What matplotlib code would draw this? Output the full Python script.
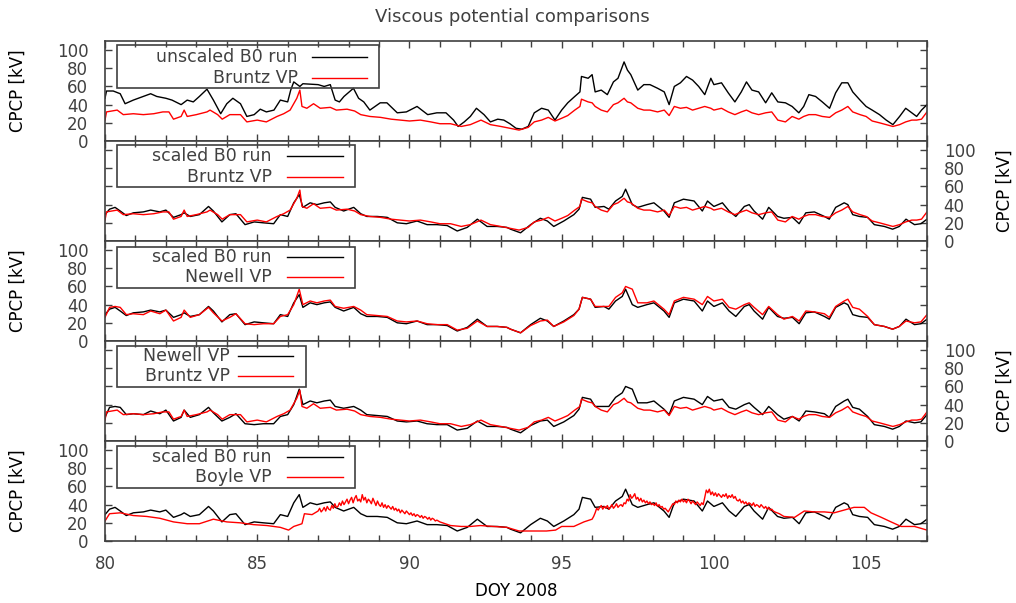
import matplotlib
matplotlib.use("Agg")
import matplotlib.pyplot as plt
from matplotlib.ticker import MultipleLocator
from matplotlib.patches import Rectangle
from matplotlib.lines import Line2D

# unscaled B0 run (CPCP, kV)
unscaled_doy = [80.0, 80.05, 80.27, 80.5, 80.66, 80.93, 81.26, 81.5, 81.7, 82.0, 82.2, 82.5, 82.7, 82.9, 83.1,
                83.35, 83.56, 83.8, 84.0, 84.2, 84.45, 84.66, 84.9, 85.1, 85.3, 85.55, 85.76, 86.0, 86.1, 86.2,
                86.4, 86.5, 87.0, 87.2, 87.4, 87.56, 87.7, 87.85, 88.16, 88.33, 88.5, 88.7, 89.04, 89.26, 89.6,
                89.9, 90.25, 90.6, 90.9, 91.2, 91.45, 91.6, 91.8, 92.0, 92.2, 92.45, 92.66, 92.9, 93.1, 93.3,
                93.5, 93.69, 93.9, 94.1, 94.34, 94.56, 94.78, 95.0, 95.2, 95.43, 95.6, 95.65, 95.87, 96.0, 96.1,
                96.3, 96.5, 96.7, 96.85, 97.05, 97.16, 97.27, 97.5, 97.7, 97.9, 98.15, 98.37, 98.53, 98.7, 98.9,
                99.1, 99.3, 99.5, 99.7, 99.9, 100.0, 100.25, 100.47, 100.69, 100.9, 101.07, 101.25, 101.47,
                101.7, 101.9, 102.1, 102.35, 102.57, 102.79, 102.95, 103.12, 103.34, 103.56, 103.8, 104.0,
                104.2, 104.4, 104.56, 104.8, 105.0, 105.2, 105.44, 105.66, 105.88, 106.1, 106.3, 106.5, 106.66,
                106.82, 107.0]
unscaled_kv = [47, 55, 55, 52, 41, 45, 49, 52, 49, 47, 45, 40, 45, 43, 49,
               57, 45, 30, 41, 47, 41, 27, 29, 35, 32, 34, 45, 43, 56, 65,
               60, 63, 62, 60, 62, 45, 43, 49, 58, 47, 43, 34, 42, 42, 31,
               32, 38, 29, 31, 31, 23, 16, 21, 27, 36, 29, 21, 24, 23, 19,
               14, 13, 16, 31, 36, 34, 23, 34, 42, 49, 54, 71, 69, 73, 54,
               56, 51, 65, 69, 87, 78, 73, 56, 62, 62, 58, 54, 40, 60, 64,
               71, 67, 60, 51, 69, 62, 64, 53, 43, 54, 65, 56, 54,
               42, 53, 43, 42, 38, 31, 38, 51, 49, 43, 36, 53,
               64, 64, 54, 45, 38, 34, 29, 23, 18, 27, 36, 31, 27,
               34, 40]

# Bruntz viscous potential
bruntz_doy = [80.0, 80.05, 80.4, 80.6, 80.93, 81.26, 81.6, 81.9, 82.1, 82.25, 82.5, 82.6, 82.7, 83.0, 83.35,
              83.45, 83.7, 83.85, 84.1, 84.45, 84.66, 85.0, 85.3, 85.65, 85.87, 86.08, 86.3, 86.4, 86.47, 86.63,
              86.85, 87.07, 87.4, 87.6, 87.95, 88.2, 88.4, 88.7, 89.05, 89.4, 89.7, 90.0, 90.36, 90.7, 91.0,
              91.35, 91.7, 92.0, 92.35, 92.66, 93.0, 93.3, 93.6, 93.9, 94.1, 94.34, 94.56, 94.78, 95.0, 95.2,
              95.43, 95.6, 95.65, 95.87, 96.0, 96.1, 96.3, 96.5, 96.7, 96.85, 97.05, 97.16, 97.27, 97.5, 97.7,
              97.9, 98.15, 98.37, 98.53, 98.7, 98.9, 99.1, 99.3, 99.5, 99.7, 99.9, 100.0, 100.25, 100.47,
              100.69, 100.9, 101.07, 101.25, 101.47, 101.7, 101.9, 102.1, 102.35, 102.57, 102.79, 102.95,
              103.12, 103.34, 103.56, 103.8, 104.0, 104.2, 104.4, 104.56, 104.8, 105.0, 105.2, 105.44, 105.66,
              105.88, 106.1, 106.3, 106.5, 106.66, 106.82, 107.0]
bruntz_kv = [23, 32, 34, 29, 30, 29, 30, 32, 32, 24, 27, 34, 27, 29, 32,
             34, 29, 24, 29, 29, 21, 23, 21, 27, 30, 34, 47, 56, 38, 36,
             41, 36, 37, 34, 35, 33, 29, 27, 26, 24, 23, 22, 23, 21, 19,
             19, 16, 18, 23, 18, 16, 14, 12, 15, 21, 23, 26, 22, 25, 28,
             34, 38, 46, 43, 42, 38, 34, 32, 40, 42, 47, 43, 42, 36, 34,
             34, 32, 34, 28, 38, 36, 37, 34, 36, 38, 36, 34, 36, 32,
             29, 32, 34, 31, 29, 31, 32, 23, 21, 27, 24, 27,
             29, 29, 27, 26, 31, 34, 38, 32, 29, 27, 22, 20, 18,
             16, 18, 21, 23, 23, 24, 32]

# scaled B0 run
scaled_doy = [80.0, 80.15, 80.33, 80.5, 80.7, 80.93, 81.26, 81.5, 81.8, 82.0, 82.25, 82.5, 82.6, 82.8, 83.1,
              83.4, 83.56, 83.84, 84.1, 84.3, 84.6, 84.9, 85.2, 85.54, 85.76, 86.0, 86.2, 86.38, 86.5, 86.74,
              86.96, 87.2, 87.4, 87.56, 87.84, 88.17, 88.4, 88.6, 88.94, 89.27, 89.6, 89.9, 90.25, 90.58, 90.9,
              91.24, 91.57, 91.9, 92.23, 92.55, 92.88, 93.2, 93.32, 93.65, 93.98, 94.3, 94.53, 94.74, 95.07,
              95.4, 95.57, 95.68, 95.95, 96.1, 96.39, 96.55, 96.77, 96.99, 97.1, 97.32, 97.5, 97.8, 98.03,
              98.36, 98.53, 98.7, 99.0, 99.35, 99.62, 99.79, 100.0, 100.28, 100.5, 100.72, 101.0, 101.16,
              101.32, 101.6, 101.8, 102.09, 102.3, 102.58, 102.8, 103.02, 103.3, 103.63, 103.79, 104.0,
              104.28, 104.4, 104.56, 104.78, 105.05, 105.27, 105.6, 105.87, 106.09, 106.31, 106.59, 106.8,
              107.0]
scaled_kv = [29, 35, 37, 33, 28, 31, 32, 34, 32, 34, 26, 29, 31, 27, 29,
             38, 33, 21, 29, 30, 18, 21, 20, 19, 29, 27, 42, 51, 37, 42,
             40, 42, 43, 37, 33, 37, 30, 27, 27, 26, 20, 19, 22, 18, 18,
             17, 11, 15, 24, 16, 16, 15, 13, 9, 18, 25, 22, 16, 22,
             29, 35, 48, 46, 37, 38, 35, 44, 49, 57, 40, 37, 40, 42,
             33, 26, 42, 46, 44, 33, 44, 38, 42, 33, 27, 38, 40,
             33, 24, 37, 27, 25, 26, 19, 31, 32, 27, 24, 37,
             42, 40, 29, 27, 26, 18, 16, 13, 16, 24, 18, 19,
             24]

# Newell viscous potential (same time grid as scaled run)
newell_kv = [26, 37, 38, 37, 29, 30, 29, 33, 30, 34, 22, 26, 34, 26, 29,
             37, 31, 22, 26, 30, 19, 18, 19, 19, 27, 29, 40, 57, 40, 44,
             42, 44, 45, 38, 36, 38, 34, 29, 28, 27, 22, 21, 22, 19, 18,
             18, 12, 14, 22, 16, 16, 15, 13, 9, 17, 22, 23, 16, 21,
             28, 35, 48, 46, 38, 38, 38, 48, 53, 60, 57, 42, 42, 44,
             35, 29, 44, 48, 46, 40, 49, 44, 46, 37, 35, 40, 42,
             37, 29, 38, 29, 24, 27, 22, 33, 32, 30, 26, 38,
             44, 46, 37, 35, 27, 18, 16, 13, 16, 22, 20, 21,
             29]

# Boyle viscous potential: sparse parts plus two noisy stretches read every 0.05 day
boyle_doy_early = [80.0, 80.15, 80.5, 80.93, 81.37, 81.8, 82.25, 82.7, 83.1, 83.56, 84.0, 84.44, 84.88,
                   85.32, 85.76, 86.03, 86.2, 86.47, 86.55, 86.8]
boyle_kv_early = [22, 30, 31, 28, 27, 25, 21, 19, 19, 24, 21, 20, 18,
                  17, 15, 12, 16, 19, 30, 29]
boyle_noisy1_start = 87.0
boyle_noisy1_kv = [33, 36, 32, 34, 37, 33, 38, 35, 34, 39, 36, 41, 37, 38, 42, 39, 44, 40, 43, 46,
                   41, 45, 48, 42, 47, 50, 44, 46, 43, 51, 45, 48, 42, 46, 44, 41, 47, 43, 39, 44,
                   40, 38, 42, 37, 40, 36, 39, 37, 35, 38, 34, 36, 33, 35, 31, 34, 32, 30, 33, 31,
                   29, 31, 28, 30, 27, 29, 28, 26, 28, 25, 27, 26, 24, 26, 23, 25, 24, 22, 23, 22,
                   21]
boyle_doy_mid = [91.35, 91.7, 92.0, 92.33, 92.77, 93.2, 93.6, 94.1, 94.5, 94.8, 95.0, 95.4, 95.73]
boyle_kv_mid = [17, 16, 16, 17, 16, 15, 11, 11, 11, 12, 16, 16, 21]
boyle_noisy2_start = 96.0
boyle_noisy2_kv = [24, 27, 31, 36, 34, 37, 39, 35, 38, 36, 39, 35, 37, 40, 36, 38, 41, 37, 39, 40,
                   38, 42, 41, 46, 44, 51, 47, 49, 52, 46, 48, 44, 47, 43, 45, 42, 44, 41, 43, 40,
                   41, 39, 42, 38, 40, 37, 38, 35, 36, 34, 32, 35, 38, 41, 40, 44, 42, 45, 43, 46,
                   43, 45, 42, 46, 44, 41, 44, 42, 40, 43, 41, 39, 42, 40, 48, 56, 53, 57, 51, 54,
                   50, 53, 49, 52, 50, 48, 51, 49, 52, 47, 50, 48, 51, 47, 49, 45, 44, 46, 42, 44,
                   41, 43, 40, 42, 41, 39, 42, 38, 40, 39, 37, 40, 38, 36, 38, 35, 37, 34, 35, 33,
                   32]
boyle_doy_late = [102.15, 102.3, 102.65, 102.97, 103.3, 103.63, 103.95, 104.28, 104.6, 104.94, 105.16,
                  105.5, 105.82, 106.15, 106.59, 107.0]
boyle_kv_late = [30, 27, 26, 33, 32, 32, 31, 34, 37, 37, 31, 26, 21, 16, 16, 12]

step = 0.05
boyle_doy = (boyle_doy_early
             + [boyle_noisy1_start + step * i for i in range(len(boyle_noisy1_kv))]
             + boyle_doy_mid
             + [boyle_noisy2_start + step * i for i in range(len(boyle_noisy2_kv))]
             + boyle_doy_late)
boyle_kv = boyle_kv_early + boyle_noisy1_kv + boyle_kv_mid + boyle_noisy2_kv + boyle_kv_late

series = {
    'unscaled B0 run': (unscaled_doy, unscaled_kv),
    'scaled B0 run': (scaled_doy, scaled_kv),
    'Bruntz VP': (bruntz_doy, bruntz_kv),
    'Newell VP': (scaled_doy, newell_kv),
    'Boyle VP': (boyle_doy, boyle_kv),
}
# which pair goes in which panel (black, red)
panels = [('unscaled B0 run', 'Bruntz VP'),
          ('scaled B0 run', 'Bruntz VP'),
          ('scaled B0 run', 'Newell VP'),
          ('Newell VP', 'Bruntz VP'),
          ('scaled B0 run', 'Boyle VP')]

W, H = 1016, 603
grey = '#404040'
plt.rcParams['font.family'] = 'DejaVu Sans'
plt.rcParams['font.size'] = 12
plt.rcParams['text.color'] = grey
plt.rcParams['axes.edgecolor'] = grey
plt.rcParams['xtick.color'] = grey
plt.rcParams['ytick.color'] = grey

fig, axes = plt.subplots(5, 1, figsize=(W / 100, H / 100), dpi=100, sharex=True)
fig.subplots_adjust(left=105 / W, right=927 / W, top=1 - 41 / H, bottom=1 - 541 / H, hspace=0)

for i, (ax, (k_black, k_red)) in enumerate(zip(axes, panels)):
    ax.plot(*series[k_black], color='black', lw=1.0)
    ax.plot(*series[k_red], color='red', lw=1.0)
    ax.set_xlim(80, 107)
    ax.set_ylim(0, 110)
    ax.set_yticks(range(0, 101, 20))
    ax.xaxis.set_major_locator(MultipleLocator(5))
    ax.xaxis.set_minor_locator(MultipleLocator(1))
    ax.tick_params(which='both', direction='in', top=True, right=True, left=True, bottom=True)
    ax.tick_params(which='major', length=5, width=1)
    ax.tick_params(which='minor', length=4, width=1)
    ax.tick_params(axis='y', pad=12)
    ax.tick_params(axis='x', pad=10)
    for sp in ax.spines.values():
        sp.set_linewidth(1.2)
    ax.set_ylabel('CPCP [kV]')
    if i % 2 == 1:
        ax.tick_params(axis='y', labelleft=False, labelright=True)
        ax.yaxis.set_label_position('right')
        ax.yaxis.set_label_coords(1.084, 0.5)
    else:
        ax.yaxis.set_label_coords(-0.095, 0.5)

axes[-1].set_xlabel('DOY 2008')
axes[-1].xaxis.set_label_coords(0.5, -0.41)
fig.text(512 / W, 1 - 17 / H, 'Viscous potential comparisons', ha='center', va='center', fontsize=13)


# gnuplot style key: right aligned labels, sample line after the text
def draw_key(x0, x1, y0, y1, text_right, lx0, lx1, rows):
    fig.add_artist(Rectangle((x0 / W, 1 - y1 / H), (x1 - x0) / W, (y1 - y0) / H,
                             transform=fig.transFigure, fill=False, ec=grey, lw=1.2))
    for label, color, y in rows:
        fig.text(text_right / W, 1 - y / H, label, ha='right', va='center', fontsize=12.5)
        fig.add_artist(Line2D([lx0 / W, lx1 / W], [1 - y / H, 1 - y / H],
                              transform=fig.transFigure, color=color, lw=1.0))


draw_key(117, 379, 45, 88, 298, 312, 367, [('unscaled B0 run', 'black', 57), ('Bruntz VP', 'red', 78)])
draw_key(117, 355, 145, 187, 272, 287, 343, [('scaled B0 run', 'black', 156), ('Bruntz VP', 'red', 177)])
draw_key(117, 355, 247, 288, 272, 287, 343, [('scaled B0 run', 'black', 257), ('Newell VP', 'red', 277)])
draw_key(117, 306, 346, 387, 230, 238, 293, [('Newell VP', 'black', 356), ('Bruntz VP', 'red', 376)])
draw_key(117, 355, 446, 488, 272, 287, 343, [('scaled B0 run', 'black', 457), ('Boyle VP', 'red', 477)])

fig.savefig('out.png', dpi=100)
